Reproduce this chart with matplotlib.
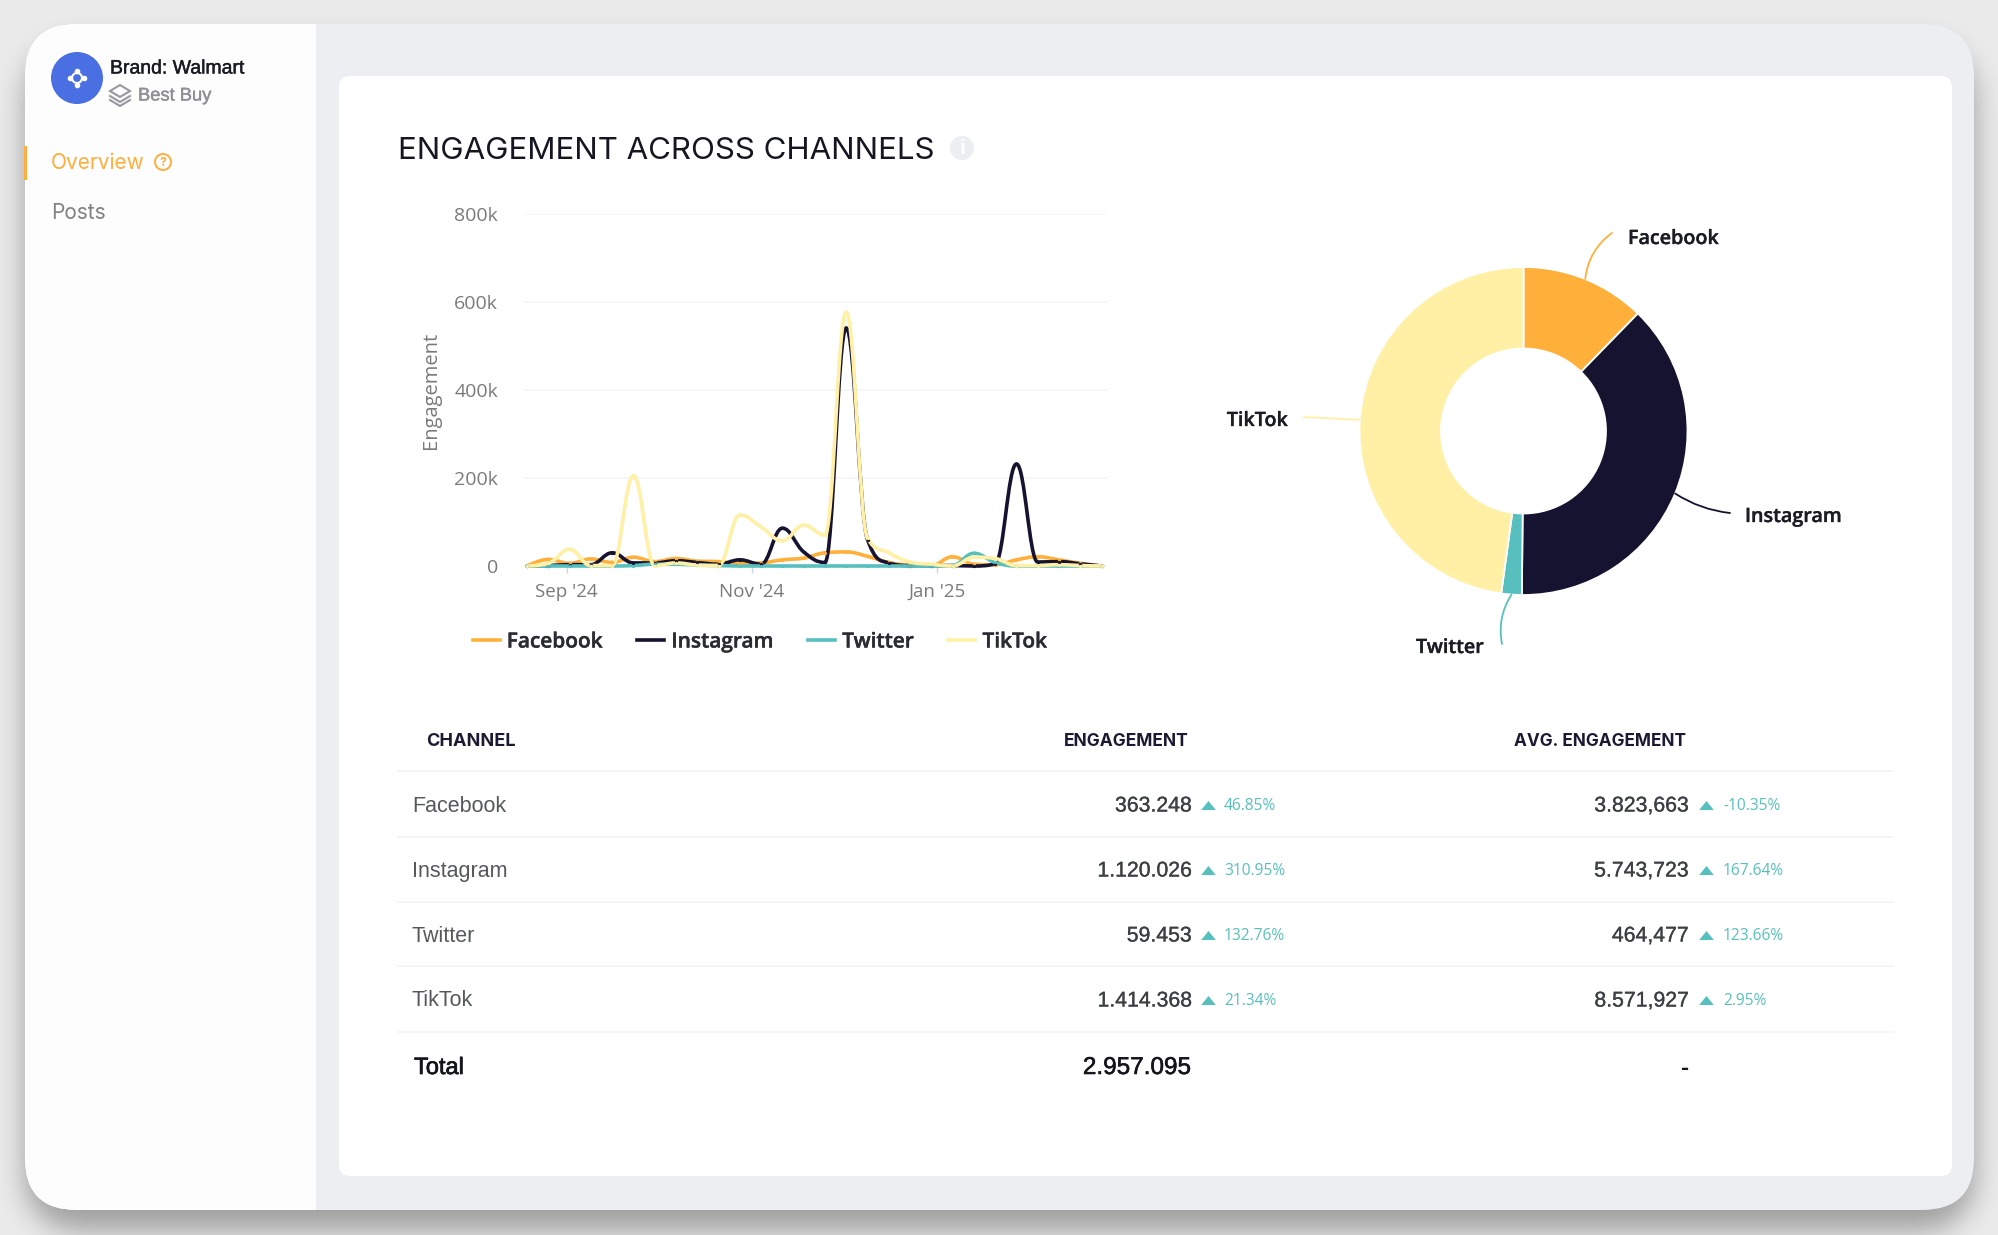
import datetime as dt

import matplotlib
matplotlib.use("Agg")
import matplotlib.dates as mdates
import matplotlib.patheffects as pe
import matplotlib.pyplot as plt
import numpy as np
from matplotlib.lines import Line2D
from matplotlib.patches import Circle, FancyBboxPatch, PathPatch, Polygon, Rectangle
from matplotlib.path import Path

W, H = 1999, 1235

# weekly values
week_start = dt.date(2024, 8, 19)
n_weeks = 28
facebook = [0, 15000, 6000, 16000, 8000, 20000, 10000, 17000, 11000, 10000, 6000, 7000, 14000, 18000,
            30000, 32000, 22000, 8000, 2000, 1000, 21000, 4000, 3000, 14000, 21000, 14000, 6000, 0]
instagram = [0, 1000, 3000, 3000, 30000, 7000, 7000, 12000, 8000, 4000, 14000, 4000, 86000, 32000,
             8000, 541000, 60000, 7000, 1000, 1000, 1000, 0, 5000, 232000, 9000, 10000, 5000, 0]
twitter = [0, 0, 0, 0, 0, 1000, 4000, 4000, 2000, 1000, 0, 0, 0, 0,
           0, 0, 0, 0, 0, 0, 1000, 29000, 8000, 0, 0, 0, 0, 0]
tiktok = [0, 6000, 38000, 1000, 1000, 205000, 1000, 7000, 2000, 1000, 116000, 89000, 57000, 93000,
          70000, 577000, 63000, 30000, 9000, 4000, 0, 20000, 17000, 1000, 1000, 3000, 1000, 0]

channels = ["Facebook", "Instagram", "Twitter", "TikTok"]
colors = ["#FFB03B", "#161331", "#58BFBF", "#FFF0A6"]
series = [facebook, instagram, twitter, tiktok]

# table
engagement_vals = [363248, 1120026, 59453, 1414368]
engagement_txt = ["363.248", "1.120.026", "59.453", "1.414.368"]
engagement_pct = ["46.85%", "310.95%", "132.76%", "21.34%"]
avg_txt = ["3.823,663", "5.743,723", "464,477", "8.571,927"]
avg_pct = ["-10.35%", "167.64%", "123.66%", "2.95%"]
total_txt = "2.957.095"

TEAL = colors[2]
ORANGE = "#FFAE3D"
SANS = "Liberation Sans"
HEAD = "Inter"
CHART = "Open Sans"


def px_axes(fig, left, top, right, bottom):
    return fig.add_axes([left / W, 1 - bottom / H, (right - left) / W, (bottom - top) / H])


# highcharts style spline, same control points
def spline_path(xs, ys):
    smoothing, denom = 1.5, 2.5
    verts = [(xs[0], ys[0])]
    codes = [Path.MOVETO]
    right_prev = (xs[0], ys[0])
    n = len(xs)
    for i in range(1, n):
        x, y = xs[i], ys[i]
        if i == n - 1:
            left, right = (x, y), (x, y)
        else:
            lx, ly, nx, ny = xs[i - 1], ys[i - 1], xs[i + 1], ys[i + 1]
            lcx, lcy = (smoothing * x + lx) / denom, (smoothing * y + ly) / denom
            rcx, rcy = (smoothing * x + nx) / denom, (smoothing * y + ny) / denom
            corr = (rcy - lcy) * (rcx - x) / (rcx - lcx) + y - rcy
            lcy += corr
            rcy += corr
            if lcy > ly and lcy > y:
                lcy = max(ly, y)
                rcy = 2 * y - lcy
            elif lcy < ly and lcy < y:
                lcy = min(ly, y)
                rcy = 2 * y - lcy
            if rcy > ny and rcy > y:
                rcy = max(ny, y)
                lcy = 2 * y - rcy
            elif rcy < ny and rcy < y:
                rcy = min(ny, y)
                lcy = 2 * y - rcy
            left, right = (lcx, lcy), (rcx, rcy)
        verts += [right_prev, left, (x, y)]
        codes += [Path.CURVE4] * 3
        right_prev = right
    return Path(verts, codes)


# backdrop with the window's soft shadow
def shadow_image():
    yy, xx = np.mgrid[0:H, 0:W]
    x0, x1, y0, y1, r = 25, 1974, 44, 1230, 52
    dx = np.maximum(np.maximum(x0 + r - xx, xx - (x1 - r)), 0)
    dy = np.maximum(np.maximum(y0 + r - yy, yy - (y1 - r)), 0)
    mask = ((dx ** 2 + dy ** 2 <= r ** 2) & (xx >= x0) & (xx <= x1) & (yy >= y0) & (yy <= y1)).astype(float)
    kx = np.arange(-42, 43)
    kernel = np.exp(-kx ** 2 / (2 * 14.0 ** 2))
    kernel /= kernel.sum()
    blur = np.apply_along_axis(lambda c: np.convolve(c, kernel, mode="same"), 0, mask)
    blur = np.apply_along_axis(lambda c: np.convolve(c, kernel, mode="same"), 1, blur)
    return (234 - 75 * blur) / 255


fig = plt.figure(figsize=(W / 100, H / 100), dpi=100)
bg = fig.add_axes([0, 0, 1, 1])
bg.imshow(shadow_image(), cmap="gray", vmin=0, vmax=1, extent=(0, W, H, 0), aspect="auto", interpolation="nearest")
bg.set_xlim(0, W)
bg.set_ylim(H, 0)
bg.axis("off")

window = FancyBboxPatch((25, 24), 1949, 1186, boxstyle="round,pad=0,rounding_size=52", fc="#ECEEF2", ec="none")
bg.add_patch(window)
bg.add_patch(Rectangle((25, 24), 291, 1186, fc="#FDFDFD", ec="none", clip_path=window))
grad = np.linspace(0.955, 0.99, 40).reshape(1, -1)
side_grad = bg.imshow(grad, cmap="gray", vmin=0, vmax=1, extent=(25, 65, 1210, 24), aspect="auto")
side_grad.set_clip_path(window)
bg.set_xlim(0, W)
bg.set_ylim(H, 0)
bg.add_patch(FancyBboxPatch((339, 76), 1613, 1100, boxstyle="round,pad=0,rounding_size=11", fc="white", ec="none"))


def put(x, y, s, size, color, family=SANS, ha="left", weight="normal", stroke=0):
    t = bg.text(x, y, s, fontsize=size, color=color, family=family, ha=ha, va="center", weight=weight)
    if stroke:
        t.set_path_effects([pe.withStroke(linewidth=stroke, foreground=color)])
    return t


# sidebar
bg.add_patch(Circle((77, 78), 26, fc="#4A6FE3", ec="none"))
bg.add_patch(Circle((77, 78), 5, fc="none", ec="white", lw=1.5))
bg.plot([77, 77, 70, 84], [71, 85, 78, 78], "o", color="white", ms=3, ls="none")
put(110, 69, "Brand: Walmart", 14, "#1A1A22", stroke=0.3)
bg.add_patch(Polygon([(120, 85), (130, 91), (120, 97), (110, 91)], closed=True, fc="none", ec="#98989E", lw=1.5))
bg.plot([110, 120, 130], [96, 102, 96], color="#98989E", lw=1.5)
bg.plot([110, 120, 130], [100, 106, 100], color="#98989E", lw=1.5)
put(138, 96, "Best Buy", 13.2, "#8F8F95", stroke=0.3)
bg.add_patch(Rectangle((24, 146), 3, 34, fc=ORANGE, ec="none"))
put(51, 163, "Overview", 15, ORANGE, family=HEAD)
bg.add_patch(Circle((163, 162), 8, fc="none", ec=ORANGE, lw=1.4))
put(163, 162.5, "?", 9, ORANGE, family=HEAD, ha="center", weight="bold")
put(51, 213, "Posts", 15, "#808080", family=HEAD)

# title
put(398, 151, "ENGAGEMENT ACROSS CHANNELS", 22.5, "#161622", family=HEAD)
bg.add_patch(Circle((962, 148), 12, fc="#ECEEF2", ec="none"))
put(962, 148, "i", 15, "white", ha="center", weight="bold")

# line chart
px_per_day = 3.04
ax = px_axes(fig, 523, 214, 1107, 566)
ax.patch.set_visible(False)
dates = [week_start + dt.timedelta(days=7 * i) for i in range(n_weeks)]
xnum = mdates.date2num(dates)
ax.xaxis_date()
for name, vals, c in zip(channels, series, colors):
    ax.add_patch(PathPatch(spline_path(list(xnum), list(vals)), fc="none", ec=c, lw=2.6, clip_on=False,
                           capstyle="round", joinstyle="round"))
    ax.plot(xnum, vals, "o", color=c, ms=2.4, mew=0, clip_on=False)
ax.set_xlim(xnum[0] - 4.0 / px_per_day, xnum[-1] + 5.4 / px_per_day)
ax.set_ylim(0, 800000)
ax.set_yticks([0, 200000, 400000, 600000, 800000])
ax.set_yticklabels(["0", "200k", "400k", "600k", "800k"])
ax.set_xticks(mdates.date2num([dt.date(2024, 9, 1), dt.date(2024, 11, 1), dt.date(2025, 1, 1)]))
ax.xaxis.set_major_formatter(mdates.DateFormatter("%b '%y"))
ax.grid(axis="y", color="#F4F5F6", lw=1.2)
ax.set_axisbelow(True)
ax.tick_params(axis="y", length=0, pad=18, labelsize=14, labelcolor="#7A7A7A")
ax.tick_params(axis="x", length=5, width=1, color="#CCD6EB", pad=7, labelsize=13.5, labelcolor="#7A7A7A")
for lab in ax.get_xticklabels() + ax.get_yticklabels():
    lab.set_family(CHART)
for sp in ax.spines.values():
    sp.set_visible(False)
ax.set_ylabel("Engagement", fontsize=14.5, color="#7A7A7A", family=CHART)
ax.yaxis.set_label_coords((441 - 523) / 584, (566 - 390.5) / 352)

handles = [Line2D([0], [0], color=c, lw=2.6, label=name) for name, c in zip(channels, colors)]
leg = ax.legend(handles=handles, ncol=4, frameon=False, loc="center", bbox_to_anchor=(760, 642),
                bbox_transform=bg.transData, handlelength=1.3, handletextpad=0.34, columnspacing=1.65,
                prop={"family": CHART, "size": 15, "weight": "semibold"}, labelcolor="#2B2B33")
for t in leg.get_texts():
    t.set_path_effects([pe.withStroke(linewidth=0.3, foreground="#2B2B33")])

# donut
cx, cy, rad_px = 1523.5, 431, 164
pie_ax = px_axes(fig, cx - rad_px, cy - rad_px, cx + rad_px, cy + rad_px)
pie_ax.patch.set_visible(False)
pie_ax.pie(engagement_vals, colors=colors, startangle=90, counterclock=False, radius=1,
           wedgeprops=dict(width=0.497, edgecolor="white", linewidth=1.3))
pie_ax.set_xlim(-1, 1)
pie_ax.set_ylim(-1, 1)
pie_ax.set_aspect("equal")

label_pos = [(1628, 238, "left"), (1745, 516, "left"), (1484, 647, "right"), (1288, 420, "right")]
conn_end = [(1612, 233, 0.22), (1730, 513, -0.12), (1502, 644, -0.2), (1304, 417, 0.0)]
cum = np.cumsum(engagement_vals) / sum(engagement_vals)
mids = (cum - np.array(engagement_vals) / sum(engagement_vals) / 2) * 2 * np.pi
for name, c, mid, (lx, ly, ha), (ex, ey, rad) in zip(channels, colors, mids, label_pos, conn_end):
    pie_ax.annotate("", xy=(np.sin(mid), np.cos(mid)), xycoords="data", xytext=(ex, ey), textcoords=bg.transData,
                    annotation_clip=False,
                    arrowprops=dict(arrowstyle="-", color=c, lw=1.3, shrinkA=0, shrinkB=0,
                                    connectionstyle=f"arc3,rad={rad}"))
    put(lx, ly + 1, name, 14.2, "#1C1C24", family=CHART, ha=ha, weight="semibold", stroke=0.25)

# table
for y in [771, 837, 902, 966, 1032]:
    bg.plot([398, 1893], [y, y], color="#F3F4F5", lw=1.2)
put(426, 741, "CHANNEL", 13, "#1B1A33", family=HEAD, weight="bold")
put(1064, 741, "ENGAGEMENT", 12.5, "#1B1A33", family=HEAD, weight="bold")
put(1514, 741, "AVG. ENGAGEMENT", 12.4, "#1B1A33", family=HEAD, weight="bold")
tri = [(-1, -0.62), (1, -0.62), (0, 0.62)]
row_y = [806, 871, 936, 1001]
for i, y in enumerate(row_y):
    put(412, y, channels[i], 15.5, "#55585C")
    put(1192, y, engagement_txt[i], 15.3, "#3C3F44", ha="right", stroke=0.2)
    bg.plot([1208], [y - 1], marker=tri, ms=10.5, color=TEAL, mew=0, ls="none")
    put(1224, y, engagement_pct[i], 11.2, TEAL, family=CHART)
    put(1689, y, avg_txt[i], 15.3, "#3C3F44", ha="right", stroke=0.2)
    bg.plot([1706], [y - 1], marker=tri, ms=10.5, color=TEAL, mew=0, ls="none")
    put(1723, y, avg_pct[i], 11.2, TEAL, family=CHART)
put(414, 1068, "Total", 17, "#14141C", stroke=0.5)
put(1191, 1068, total_txt, 17.5, "#14141C", ha="right", stroke=0.4)
put(1689, 1068, "-", 17.5, "#14141C", ha="right", weight="bold")

fig.savefig("out.png", dpi=100)
